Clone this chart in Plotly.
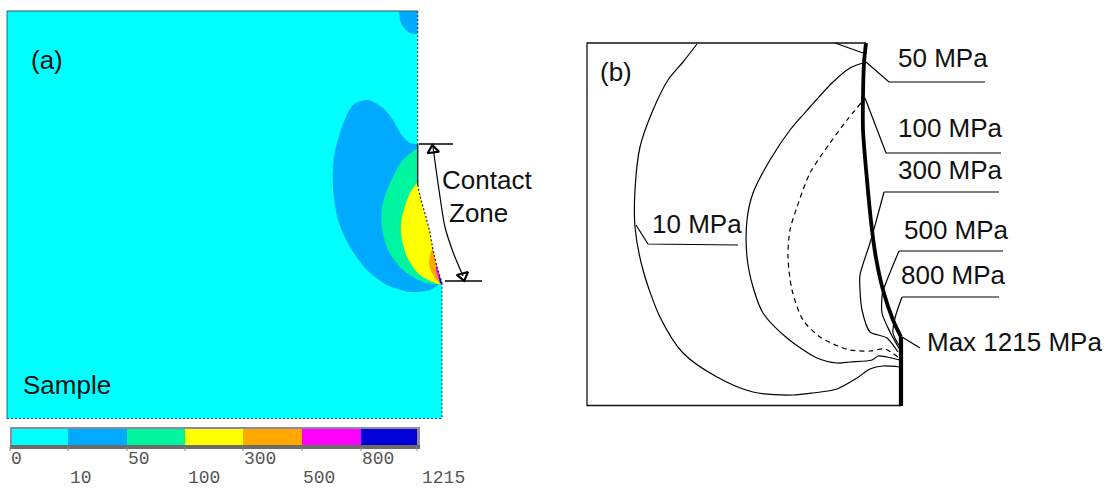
import plotly.graph_objects as go

# ---------- panel (a): contour regions of the sample (image pixel frame) ----------
sample_x = [7, 417.7, 417.7, 421, 426, 430, 433, 437, 442, 442, 7, 7]
sample_y = [11, 11, 185, 200, 217, 233, 250, 267, 283, 418.5, 418.5, 11]

corner_x = [399, 400, 404, 410, 417.7]
corner_y = [11, 20, 28, 33, 34]

contact_x = [417.7, 417.7, 421, 426, 430, 433, 437, 442]
contact_y = [144, 185, 200, 217, 233, 250, 267, 283]

band10_x = [417.7, 410, 403, 393, 383, 368, 353, 342, 334, 333, 338, 350, 367, 387, 410, 430, 442]
band10_y = [144, 143, 137, 120, 108, 100, 105, 127, 157, 187, 220, 247, 270, 285, 292, 290, 283]
band50_x = [417.7, 403, 390, 382, 382, 388, 403, 423, 442]
band50_y = [148, 160, 183, 207, 227, 250, 270, 282, 285]
band100_x = [417.7, 410, 402, 401, 407, 420, 442]
band100_y = [182, 193, 217, 233, 257, 275, 285]
band300_x = [432, 429, 433, 442]
band300_y = [248, 263, 275, 285]
band500_x = [437, 436, 438, 442]
band500_y = [262, 270, 277, 285]
band800_x = [440, 439.5, 442]
band800_y = [272, 280, 285]

colors_a = ["#00FFFF", "#00AAFF", "#00F5A0", "#FFFF00", "#FFA800", "#FF00FF", "#0000D8"]

# colour legend
legend_edges = [12, 68, 127, 185, 243, 302, 361, 417]
legend_labels = ["0", "10", "50", "100", "300", "500", "800", "1215"]
legend_label_x = [9, 68, 126, 186, 242, 301, 360, 420]

# ---------- panel (b): contour lines ----------
frame_x = [866, 587, 587, 901]
frame_y = [43, 43, 405.5, 405.5]
bold_x = [866, 864, 863, 863, 867, 872, 876, 883, 893, 901]
bold_y = [43, 63, 97, 130, 180, 230, 258, 290, 320, 337]
bold2_x = [901, 901]
bold2_y = [337, 406]

c10_x = [697, 683, 668, 653, 640, 635, 635, 643, 660, 683, 717, 753, 793, 813, 837, 857, 870, 883, 900]
c10_y = [44, 62, 80, 110, 147, 190, 227, 270, 317, 353, 377, 392, 395, 393, 389, 378, 369, 366, 367]
c50_x = [866, 850, 833, 810, 790, 770, 753, 747, 747, 753, 763, 787, 817, 837, 850, 872, 878, 887, 900]
c50_y = [62, 68, 82, 107, 130, 160, 193, 220, 257, 287, 313, 338, 358, 363, 362, 360, 356, 357, 360]
c100_x = [861, 847, 830, 810, 797, 790, 788, 792, 803, 820, 838, 850, 870, 885, 898]
c100_y = [103, 120, 143, 173, 207, 230, 257, 290, 320, 337, 346, 350, 351, 349, 357]
c300_x = [884, 877, 870, 860, 860, 862, 870, 878, 887, 898]
c300_y = [192, 218, 243, 275, 290, 310, 332, 335, 338, 352]
c500_x = [899, 883, 882, 882, 890, 900]
c500_y = [251, 291, 297, 313, 332, 350]
c800_x = [902, 895, 893, 900]
c800_y = [297, 318, 333, 347]

leaders = [
    ([835, 863], [43, 53]),
    ([866, 889, 985], [62, 82, 82]),
    ([865, 886, 1001], [98, 153, 153]),
    ([884, 999], [192, 192]),
    ([899, 1003], [251, 251]),
    ([902, 999], [297, 297]),
    ([902, 920], [337, 348]),
    ([636, 648, 738], [225, 244, 245]),
]

contact_top_x, contact_top_y = [419, 453], [144, 144]
contact_bot_x, contact_bot_y = [445, 482], [281, 281]
span_x = [433, 439, 445, 453, 463]
span_y = [147, 190, 227, 252, 276]

text_labels = [
    ("(a)", 29, 60), ("Sample", 21, 385), ("(b)", 598, 72),
    ("10 MPa", 650, 224), ("50 MPa", 896, 58), ("100 MPa", 896, 128),
    ("300 MPa", 896, 170), ("500 MPa", 902, 230), ("800 MPa", 899, 275),
    ("Max 1215 MPa", 925, 342),
]
text_centered = [("Contact", 487, 180), ("Zone", 478, 213)]

fig = go.Figure()


def region(x, y, color, shape="linear"):
    fig.add_trace(go.Scatter(x=x, y=y, mode="lines", fill="toself", fillcolor=color,
                             line=dict(width=0, color=color, shape=shape, smoothing=0.8),
                             hoverinfo="skip", showlegend=False))


def band(x, y, color):
    region(x + [470, 470], y + [y[-1], y[0]], color, "spline")


def spline(x, y, width=1.2, dash="solid", color="#000000", shape="spline"):
    fig.add_trace(go.Scatter(x=x, y=y, mode="lines", hoverinfo="skip", showlegend=False,
                             line=dict(width=width, dash=dash, color=color, shape=shape, smoothing=0.8)))


region(sample_x, sample_y, colors_a[0])
band(corner_x, corner_y, colors_a[1])
region([392, 425, 425, 392], [2, 2, 11, 11], "#FFFFFF")
band(band10_x, band10_y, colors_a[1])
band(band50_x, band50_y, colors_a[2])
band(band100_x, band100_y, colors_a[3])
band(band300_x, band300_y, colors_a[4])
band(band500_x, band500_y, colors_a[5])
band(band800_x, band800_y, colors_a[6])
# everything right of the sample edge stays white
region([417.7, 417.7] + contact_x[1:] + [442, 490, 490], [0, 144] + contact_y[1:] + [300, 300, 0], "#FFFFFF")

# outline of the sample
spline([7, 417.7], [11, 11], 1.2, "solid", "#31566B", "linear")
spline([7, 7], [11, 418.5], 1, "solid", "#2A6A78", "linear")
spline([7, 442], [418.5, 418.5], 1.2, "2px,2px", "#1C4F55", "linear")
spline([417.7, 417.7], [11, 144], 1.1, "2px,2px", "#333333", "linear")
spline([417.7, 417.7], [144, 185], 1.4, "solid", "#222222", "linear")
spline(contact_x[1:], contact_y[1:], 1.2, "2px,2px", "#222222", "linear")
spline([442, 442], [283, 418.5], 1.1, "2px,2px", "#1C5560", "linear")

# legend
fig.add_trace(go.Scatter(x=[10, 420, 420, 10, 10], y=[427, 427, 449, 449, 427], mode="lines", fill="toself",
                         fillcolor="#8C8CA0", line=dict(width=0), hoverinfo="skip", showlegend=False))
fig.add_trace(go.Scatter(x=[10, 420, 420, 10, 10], y=[445, 445, 449, 449, 445], mode="lines", fill="toself",
                         fillcolor="#6E6A66", line=dict(width=0), hoverinfo="skip", showlegend=False))
for i, c in enumerate(colors_a):
    a, b = legend_edges[i], legend_edges[i + 1]
    region([a, b, b, a, a], [429, 429, 445, 445, 429], c)
for i, e in enumerate(legend_edges):
    spline([e + (0 if i else -2), e + (0 if i else -2)], [447, 451], 1, "solid", "#888888", "linear")
for i, lab in enumerate(legend_labels):
    fig.add_annotation(x=legend_label_x[i], y=459 if i % 2 == 0 else 478, text=lab, showarrow=False,
                       xanchor="left", yanchor="middle", xref="x", yref="y",
                       font=dict(family="Liberation Mono", size=18, color="#555555"))

# contact markers
spline(contact_top_x, contact_top_y, 1.3, "solid", "#000000", "linear")
spline(contact_bot_x, contact_bot_y, 1.3, "solid", "#000000", "linear")
spline(span_x, span_y, 1.2)
fig.add_trace(go.Scatter(x=[span_x[0], span_x[-1]], y=[span_y[0] + 3, span_y[-1]], mode="markers",
                         hoverinfo="skip", showlegend=False,
                         marker=dict(symbol=["triangle-up-open", "triangle-down-open"], size=10,
                                     angle=[-8, -14], color="#000000", line=dict(width=2.2, color="#000000"))))

# panel (b)
spline(frame_x, frame_y, 1.3, "solid", "#111111", "linear")
spline(c10_x, c10_y)
spline(c50_x, c50_y)
spline(c100_x, c100_y, 1.2, "5px,4px")
spline(c300_x, c300_y)
spline(c500_x, c500_y)
spline(c800_x, c800_y)
for lx, ly in leaders:
    spline(lx, ly, 1.2, "solid", "#000000", "linear")
spline(bold_x, bold_y, 3.8)
spline(bold2_x, bold2_y, 4.2, "solid", "#000000", "linear")

for t, x, y in text_labels:
    fig.add_annotation(x=x, y=y, text=t, showarrow=False, xanchor="left", yanchor="middle",
                       font=dict(family="Liberation Sans", size=26, color="#111111"))
for t, x, y in text_centered:
    fig.add_annotation(x=x, y=y, text=t, showarrow=False, xanchor="center", yanchor="middle",
                       font=dict(family="Liberation Sans", size=26, color="#111111"))

fig.update_layout(width=1111, height=488, margin=dict(l=0, r=0, t=0, b=0),
                  paper_bgcolor="white", plot_bgcolor="white", showlegend=False,
                  xaxis=dict(visible=False, range=[0, 1111], fixedrange=True),
                  yaxis=dict(visible=False, range=[488, 0], fixedrange=True))
fig.write_html("out.html", config={"displayModeBar": False},
               post_script="document.body.style.margin='0';")
